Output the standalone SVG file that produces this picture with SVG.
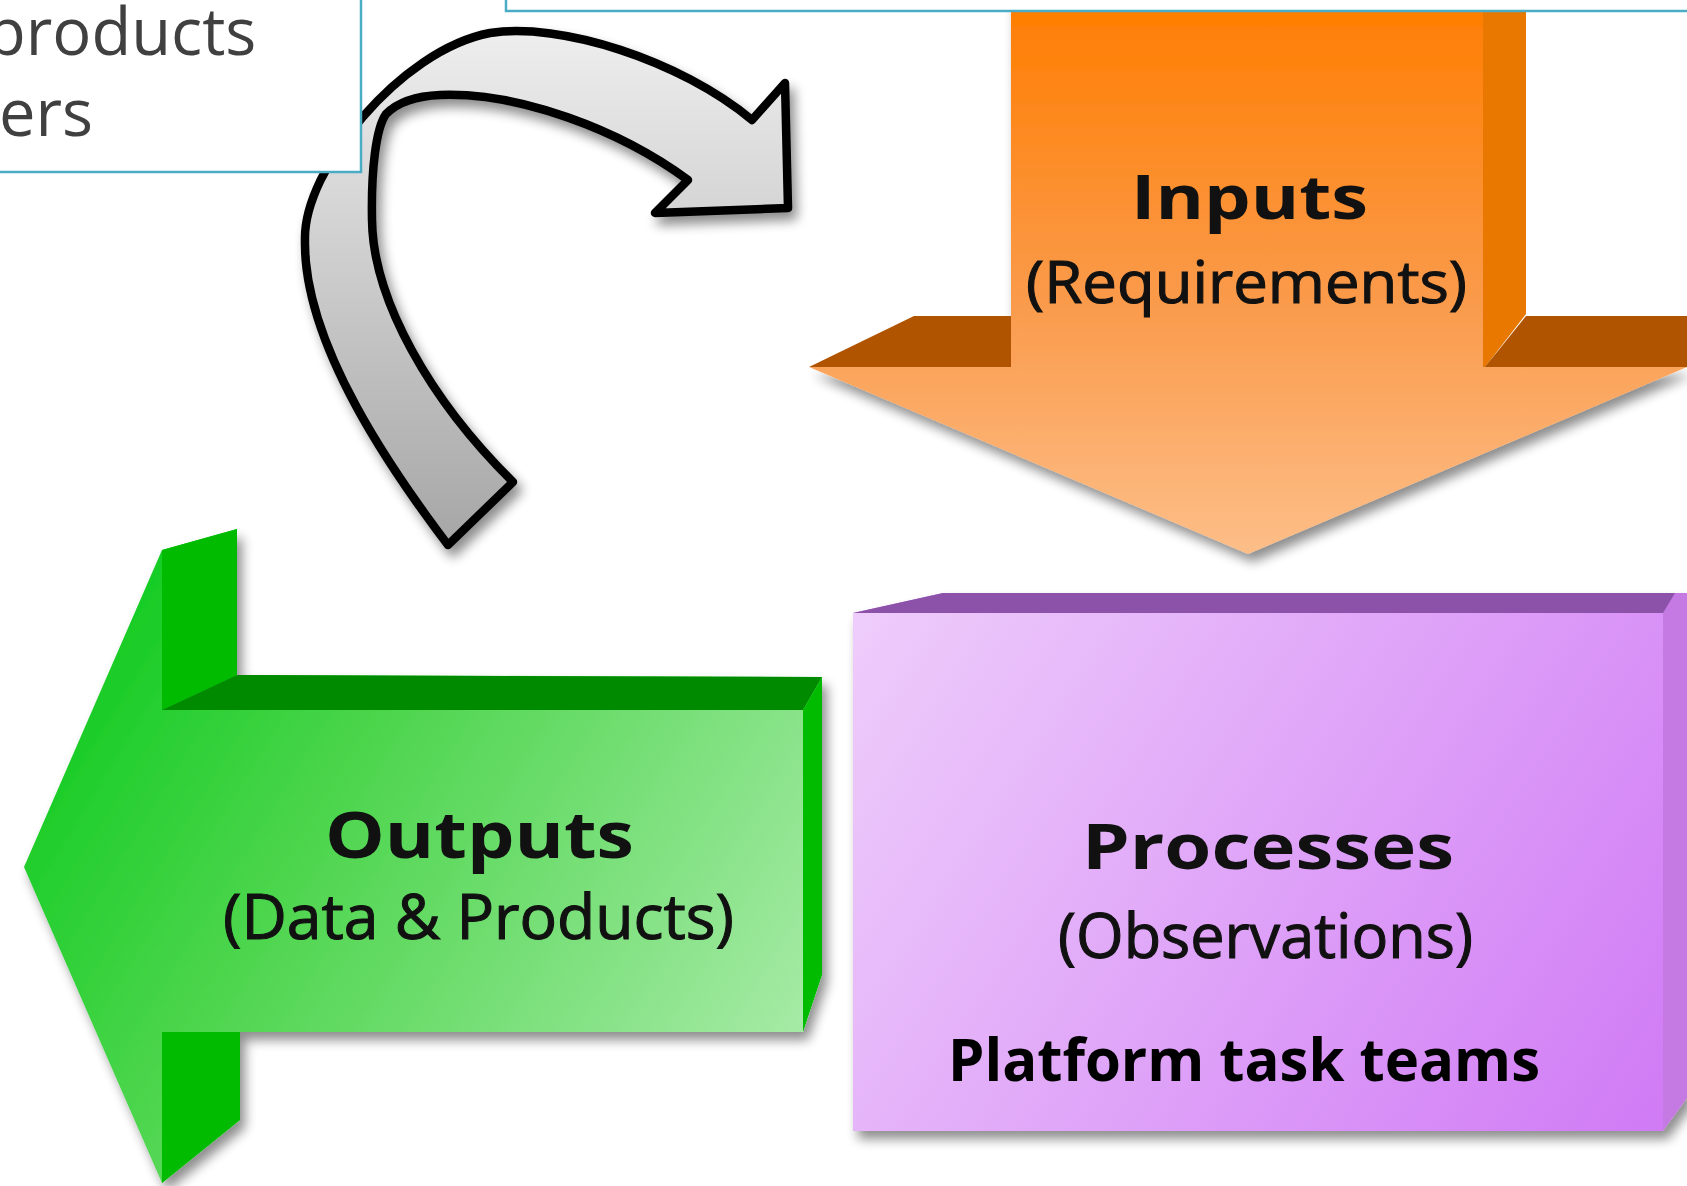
<svg xmlns="http://www.w3.org/2000/svg" width="1687" height="1186" viewBox="0 0 1687 1186">
<defs>
<style>
.box{fill:#ffffff;stroke:#4bacc6;stroke-width:2.5}
.note{font-family:"Open Sans","Liberation Sans",sans-serif;font-size:65px;fill:#404040}
.h{font-family:"Open Sans","Liberation Sans",sans-serif;font-weight:700;fill:#111111}
.s{font-family:"Open Sans","Liberation Sans",sans-serif;font-weight:400;fill:#111111;stroke:#111111;stroke-width:1.1}
.ledge{fill:#b05400}
.gside{fill:#00bb00}
</style>
<filter id="sh" x="-15%" y="-15%" width="140%" height="140%">
<feGaussianBlur in="SourceAlpha" stdDeviation="6"/>
<feOffset dx="5" dy="8"/>
<feComponentTransfer><feFuncA type="linear" slope="0.45"/></feComponentTransfer>
<feMerge><feMergeNode/><feMergeNode in="SourceGraphic"/></feMerge>
</filter>
<linearGradient id="grayG" gradientUnits="userSpaceOnUse" x1="0" y1="30" x2="0" y2="545">
<stop offset="0" stop-color="#eeeeee"/><stop offset="1" stop-color="#a6a6a6"/>
</linearGradient>
<linearGradient id="orangeG" gradientUnits="userSpaceOnUse" x1="0" y1="0" x2="0" y2="554">
<stop offset="0" stop-color="#ff7d00"/><stop offset="0.55" stop-color="#fa9b4c"/><stop offset="1" stop-color="#fdbe88"/>
</linearGradient>
<linearGradient id="greenG" gradientUnits="userSpaceOnUse" x1="24" y1="550" x2="803" y2="1032">
<stop offset="0" stop-color="#00c814"/><stop offset="0.45" stop-color="#50d650"/><stop offset="1" stop-color="#a6eaa6"/>
</linearGradient>
<linearGradient id="purpleG" gradientUnits="userSpaceOnUse" x1="853" y1="613" x2="1663" y2="1131">
<stop offset="0" stop-color="#eecdfb"/><stop offset="1" stop-color="#d07af5"/>
</linearGradient>
</defs>
<rect width="1687" height="1186" fill="#ffffff"/>

<g id="connectors">
<path id="feedback-arrow" filter="url(#sh)" fill="url(#grayG)" stroke="#000" stroke-width="8.5" stroke-linejoin="round"
 d="M 448,545 C 395,475 303,345 305,240 C 303,170 400,50 490,33 C 560,22 680,60 752,120 L 785,83 L 788,208 L 655,213 L 688,180 C 620,130 520,92 440,95 C 415,96 398,102 386,114 C 376,128 371,170 372,220 C 373,300 430,400 513,482 Z"/>
</g>

<g id="note-left">
<rect class="box" x="-5" y="-5" width="366" height="177"/>
<text class="note" x="-14" y="55">products</text>
<text class="note" x="-1" y="136">ers</text>
</g>

<g id="inputs">
<g filter="url(#sh)">
<rect x="1011" y="0" width="473" height="367" fill="url(#orangeG)"/>
<polygon points="809,367 1687,367 1248,554" fill="url(#orangeG)"/>
</g>
<polygon points="1483,0 1526,0 1526,314 1485,367 1483,367" fill="#e87800"/>
<polygon class="ledge" points="914,316 1011,316 1011,367 809,367"/>
<polygon class="ledge" points="1526,316 1687,316 1687,367 1485,367"/>
<text class="h" x="1131" y="219" font-size="60" textLength="237" lengthAdjust="spacingAndGlyphs">Inputs</text>
<text class="s" x="1026" y="303" font-size="58" textLength="441" lengthAdjust="spacingAndGlyphs">(Requirements)</text>
</g>

<g id="note-top">
<rect class="box" x="506" y="-5" width="1200" height="16"/>
</g>

<g id="processes">
<g filter="url(#sh)">
<rect x="853" y="613" width="810" height="518" fill="url(#purpleG)"/>
<polygon points="853,613 943,593 1687,593 1687,1098 1663,1131 1663,613" fill="#c47ae2"/>
</g>
<polygon points="853,613 943,593 1675,593 1663,613" fill="#8c52aa"/>
<text class="h" x="1082" y="869" font-size="63" textLength="372" lengthAdjust="spacingAndGlyphs">Processes</text>
<text class="s" x="1058" y="958" font-size="62" textLength="415" lengthAdjust="spacingAndGlyphs">(Observations)</text>
<text class="h" x="948" y="1081" font-size="59" textLength="592" lengthAdjust="spacingAndGlyphs" style="fill:#000000">Platform task teams</text>
</g>

<g id="outputs">
<g filter="url(#sh)">
<polygon points="162,550 237,529 237,675 822,677 822,975 803,1032 240,1032 240,1120 162,1183 24,867" fill="url(#greenG)"/>
</g>
<polygon class="gside" points="162,550 237,529 237,675 162,710"/>
<polygon class="gside" points="162,1032 240,1032 240,1120 162,1183"/>
<polygon points="162,710 237,675 822,677 803,710" fill="#008a00"/>
<polygon class="gside" points="803,710 822,677 822,975 803,1032"/>
<text class="h" x="325" y="858" font-size="64" textLength="309" lengthAdjust="spacingAndGlyphs">Outputs</text>
<text class="s" x="223" y="939" font-size="62" textLength="511" lengthAdjust="spacingAndGlyphs">(Data &amp; Products)</text>
</g>
</svg>
